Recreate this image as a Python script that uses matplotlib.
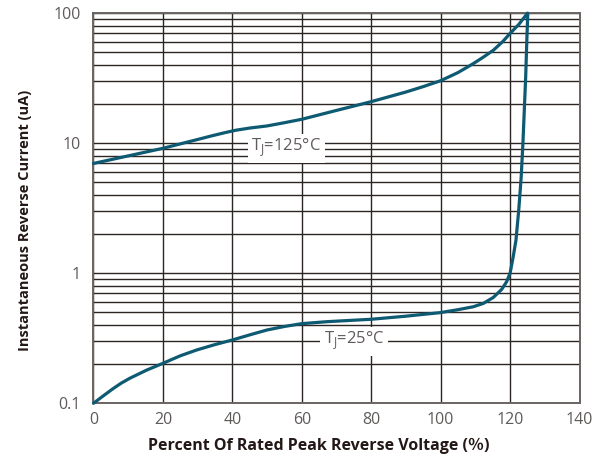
import matplotlib
matplotlib.use('Agg')
from matplotlib import pyplot as plt
from matplotlib.ticker import FixedLocator, LogLocator, NullFormatter
import numpy as np

# reverse leakage vs. percent of rated voltage
voltage_125 = [0, 10, 20, 30, 34, 38, 41, 45, 50, 55, 60, 70, 80, 90, 95, 100,
               105, 109.4, 112.3, 115.2, 118, 120, 122.5, 125]
current_125 = [7.0, 8.0, 9.15, 10.7, 11.4, 12.1, 12.6, 13.1, 13.6, 14.4, 15.3,
               17.9, 20.9, 24.8, 27.3, 30.3, 35, 41, 46, 52, 61, 70, 82, 100]

voltage_25 = [0, 2.8, 5.7, 8, 10.5, 15.3, 20, 25, 29.7, 35, 40, 45, 49.9, 55,
              60, 67.5, 80, 90, 99.8, 105, 109.4, 112.3, 115.2, 117.6, 119.0,
              120.0, 120.9, 121.7, 122.5, 123.2, 123.7, 124.1, 124.5, 124.8,
              125.1]
current_25 = [0.1, 0.114, 0.13, 0.143, 0.156, 0.18, 0.203, 0.232, 0.257, 0.283,
              0.307, 0.336, 0.366, 0.39, 0.41, 0.425, 0.443, 0.468, 0.498,
              0.525, 0.553, 0.587, 0.653, 0.753, 0.861, 1.0, 1.34, 1.8, 3.07,
              5.5, 10, 18, 32.6, 59, 100]

x_ticks = [0, 20, 40, 60, 80, 100, 120, 140]
y_ticks = [0.1, 1, 10, 100]
y_tick_labels = ['0.1', '1', '10', '100']

curve_color = '#0d5a72'
grid_color = '#2b2523'
text_gray = '#5f5b5a'

plt.rcParams['font.family'] = ['Open Sans', 'Noto Sans CJK SC', 'DejaVu Sans']
plt.rcParams['mathtext.fontset'] = 'custom'
plt.rcParams['mathtext.rm'] = 'Open Sans'

fig = plt.figure(figsize=(6.07, 4.58), dpi=100)
ax = fig.add_axes([0.154, 0.1194, 0.8007, 0.8516])

ax.plot(voltage_125, current_125, color=curve_color, linewidth=2.3,
        solid_capstyle='round', solid_joinstyle='round', clip_on=False,
        zorder=3)
ax.plot(voltage_25, current_25, color=curve_color, linewidth=2.3,
        solid_capstyle='round', solid_joinstyle='round', clip_on=False,
        zorder=3)

ax.set_yscale('log')
ax.set_xlim(0, 140)
ax.set_ylim(0.1, 100)

ax.xaxis.set_major_locator(FixedLocator(x_ticks))
ax.set_yticks(y_ticks)
ax.set_yticklabels(y_tick_labels)
ax.yaxis.set_minor_locator(LogLocator(base=10, subs=np.arange(2, 10)))
ax.yaxis.set_minor_formatter(NullFormatter())

ax.grid(which='major', axis='both', color=grid_color, linewidth=1.0)
ax.grid(which='minor', axis='y', color=grid_color, linewidth=1.0)
ax.set_axisbelow(True)

ax.tick_params(which='both', length=0)
ax.tick_params(axis='x', pad=6, labelsize=11.5, labelcolor=text_gray)
ax.tick_params(axis='y', pad=9, labelsize=11.5, labelcolor=text_gray)

for spine in ax.spines.values():
    spine.set_color('#6a6463')
    spine.set_linewidth(1.4)

label_box = dict(facecolor='white', edgecolor='none', pad=2.5)
ax.text(55.5, 9.15, r'T$_{\mathrm{J}}$=125°C', fontsize=12, color=text_gray,
        ha='center', va='center', bbox=label_box, zorder=2)
ax.text(75, 0.30, r'T$_{\mathrm{J}}$=25°C', fontsize=12, color=text_gray,
        ha='center', va='center', bbox=label_box, zorder=2)

ax.set_xlabel('Percent Of Rated Peak Reverse Voltage (％)', fontsize=11.5,
              fontweight='bold', color='#231815')
ax.xaxis.set_label_coords(0.464, -0.088)
ax.set_ylabel('Instantaneous Reverse Current (uA)', fontsize=10.5,
              fontweight='bold', color='#231815')
ax.yaxis.set_label_coords(-0.127, 0.47)

fig.savefig('out.png', dpi=100)
